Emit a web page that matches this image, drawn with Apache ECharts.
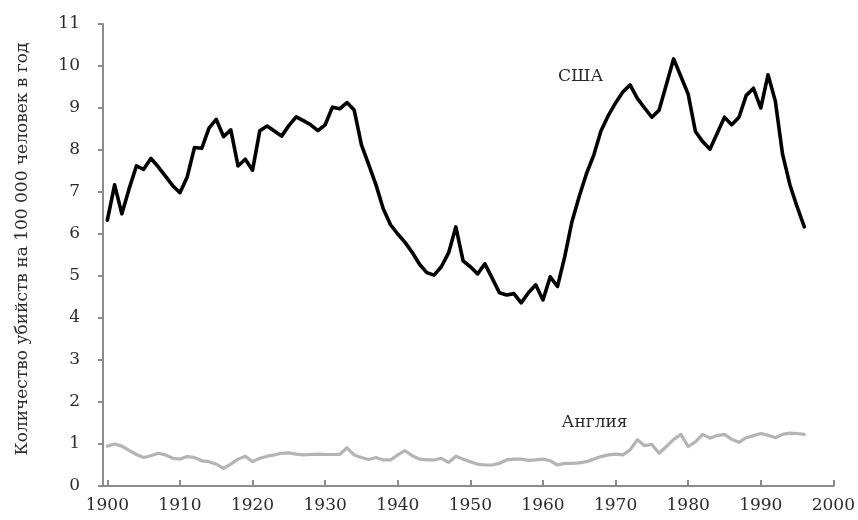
<!DOCTYPE html>
<html>
<head>
<meta charset="utf-8">
<script src="https://cdn.jsdelivr.net/npm/echarts@6/dist/echarts.min.js"></script>
<style>
  html, body { margin: 0; padding: 0; background: #fff; }
  #chart { width: 858px; height: 520px; }
</style>
</head>
<body>
<div id="chart"></div>
<script>
const years = [
  1900, 1901, 1902, 1903, 1904, 1905, 1906, 1907, 1908, 1909,
  1910, 1911, 1912, 1913, 1914, 1915, 1916, 1917, 1918, 1919,
  1920, 1921, 1922, 1923, 1924, 1925, 1926, 1927, 1928, 1929,
  1930, 1931, 1932, 1933, 1934, 1935, 1936, 1937, 1938, 1939,
  1940, 1941, 1942, 1943, 1944, 1945, 1946, 1947, 1948, 1949,
  1950, 1951, 1952, 1953, 1954, 1955, 1956, 1957, 1958, 1959,
  1960, 1961, 1962, 1963, 1964, 1965, 1966, 1967, 1968, 1969,
  1970, 1971, 1972, 1973, 1974, 1975, 1976, 1977, 1978, 1979,
  1980, 1981, 1982, 1983, 1984, 1985, 1986, 1987, 1988, 1989,
  1990, 1991, 1992, 1993, 1994, 1995, 1996
];

// США
const usa = [
  6.33, 7.17, 6.48, 7.08, 7.62, 7.54, 7.80, 7.60, 7.38, 7.15,
  6.98, 7.36, 8.06, 8.04, 8.52, 8.73, 8.32, 8.48, 7.62, 7.78,
  7.52, 8.46, 8.57, 8.45, 8.33, 8.58, 8.79, 8.70, 8.60, 8.46,
  8.60, 9.02, 8.98, 9.13, 8.95, 8.12, 7.65, 7.17, 6.60, 6.22,
  6.00, 5.80, 5.56, 5.28, 5.08, 5.02, 5.22, 5.55, 6.17, 5.36,
  5.22, 5.05, 5.29, 4.95, 4.60, 4.55, 4.58, 4.36, 4.60, 4.79,
  4.43, 4.98, 4.75, 5.46, 6.30, 6.90, 7.44, 7.88, 8.46, 8.82,
  9.12, 9.38, 9.55, 9.23, 9.00, 8.78, 8.95, 9.56, 10.17, 9.75,
  9.33, 8.44, 8.20, 8.02, 8.40, 8.78, 8.60, 8.78, 9.30, 9.47,
  9.00, 9.79, 9.17, 7.90, 7.18, 6.65, 6.17
];

// Англия
const england = [
  0.95, 1.00, 0.95, 0.85, 0.75, 0.68, 0.72, 0.78, 0.74, 0.66,
  0.64, 0.70, 0.68, 0.60, 0.58, 0.52, 0.42, 0.52, 0.64, 0.71,
  0.58, 0.66, 0.71, 0.74, 0.78, 0.79, 0.76, 0.74, 0.75, 0.76,
  0.75, 0.75, 0.75, 0.91, 0.74, 0.68, 0.63, 0.68, 0.62, 0.62,
  0.74, 0.84, 0.72, 0.64, 0.62, 0.62, 0.66, 0.56, 0.71, 0.64,
  0.58, 0.52, 0.50, 0.50, 0.54, 0.62, 0.64, 0.64, 0.61, 0.62,
  0.64, 0.60, 0.50, 0.54, 0.54, 0.55, 0.58, 0.64, 0.70, 0.74,
  0.76, 0.74, 0.86, 1.10, 0.96, 0.99, 0.78, 0.94, 1.11, 1.23,
  0.94, 1.05, 1.23, 1.14, 1.20, 1.23, 1.11, 1.04, 1.15, 1.20,
  1.25, 1.21, 1.15, 1.23, 1.26, 1.25, 1.23
];

const xTicks = [1900, 1910, 1920, 1930, 1940, 1950, 1960, 1970, 1980, 1990, 2000];

const seriesLabels = [
  { name: 'США', coord: [1965.2, 9.74] },
  { name: 'Англия', coord: [1967.1, 1.52] }
];

const FONT = '"DejaVu Serif", "Liberation Serif", serif';
const TEXT = '#2b2b2b';
const AXIS = '#8c8c8c';

const pairs = (vals) => years.map((y, i) => [y, vals[i]]);

const option = {
  animation: false,
  backgroundColor: '#fff',
  grid: { left: 103, right: 19, top: 24, bottom: 34, containLabel: false },
  xAxis: {
    type: 'value',
    min: 1899.4,
    max: 2000,
    axisLine: { show: true, lineStyle: { color: AXIS, width: 2 } },
    axisTick: {
      show: true, inside: true, length: 6,
      customValues: xTicks,
      lineStyle: { color: AXIS, width: 2 }
    },
    axisLabel: {
      customValues: xTicks,
      formatter: v => String(v),
      color: TEXT, fontFamily: FONT, fontSize: 17, margin: 11,
      showMinLabel: true, showMaxLabel: true
    },
    splitLine: { show: false }
  },
  yAxis: {
    type: 'value',
    min: 0,
    max: 11,
    interval: 1,
    name: 'Количество убийств на 100 000 человек в год',
    nameLocation: 'middle',
    nameRotate: 90,
    nameGap: 72,
    nameTextStyle: { color: TEXT, fontFamily: FONT, fontSize: 17, padding: [0, 0, 0, 12] },
    axisLine: { show: true, lineStyle: { color: AXIS, width: 2 } },
    axisTick: { show: true, inside: false, length: 5, lineStyle: { color: AXIS, width: 2 } },
    axisLabel: { color: TEXT, fontFamily: FONT, fontSize: 17, margin: 23 },
    splitLine: { show: false }
  },
  series: [
    {
      name: 'Англия',
      type: 'line',
      data: pairs(england),
      showSymbol: false,
      lineStyle: { color: '#b4b4b4', width: 3.2, join: 'round', cap: 'round' },
      markPoint: {
        symbol: 'circle', symbolSize: 1,
        itemStyle: { color: 'rgba(0,0,0,0)' },
        label: { show: true, position: 'inside', formatter: '{b}', color: TEXT, fontFamily: FONT, fontSize: 17 },
        data: [seriesLabels[1]]
      }
    },
    {
      name: 'США',
      type: 'line',
      data: pairs(usa),
      showSymbol: false,
      lineStyle: { color: '#000', width: 3.6, join: 'round', cap: 'round' },
      markPoint: {
        symbol: 'circle', symbolSize: 1,
        itemStyle: { color: 'rgba(0,0,0,0)' },
        label: { show: true, position: 'inside', formatter: '{b}', color: TEXT, fontFamily: FONT, fontSize: 17 },
        data: [seriesLabels[0]]
      }
    }
  ]
};

const chart = echarts.init(document.getElementById('chart'), null, { renderer: 'canvas' });
chart.setOption(option);
</script>
</body>
</html>
